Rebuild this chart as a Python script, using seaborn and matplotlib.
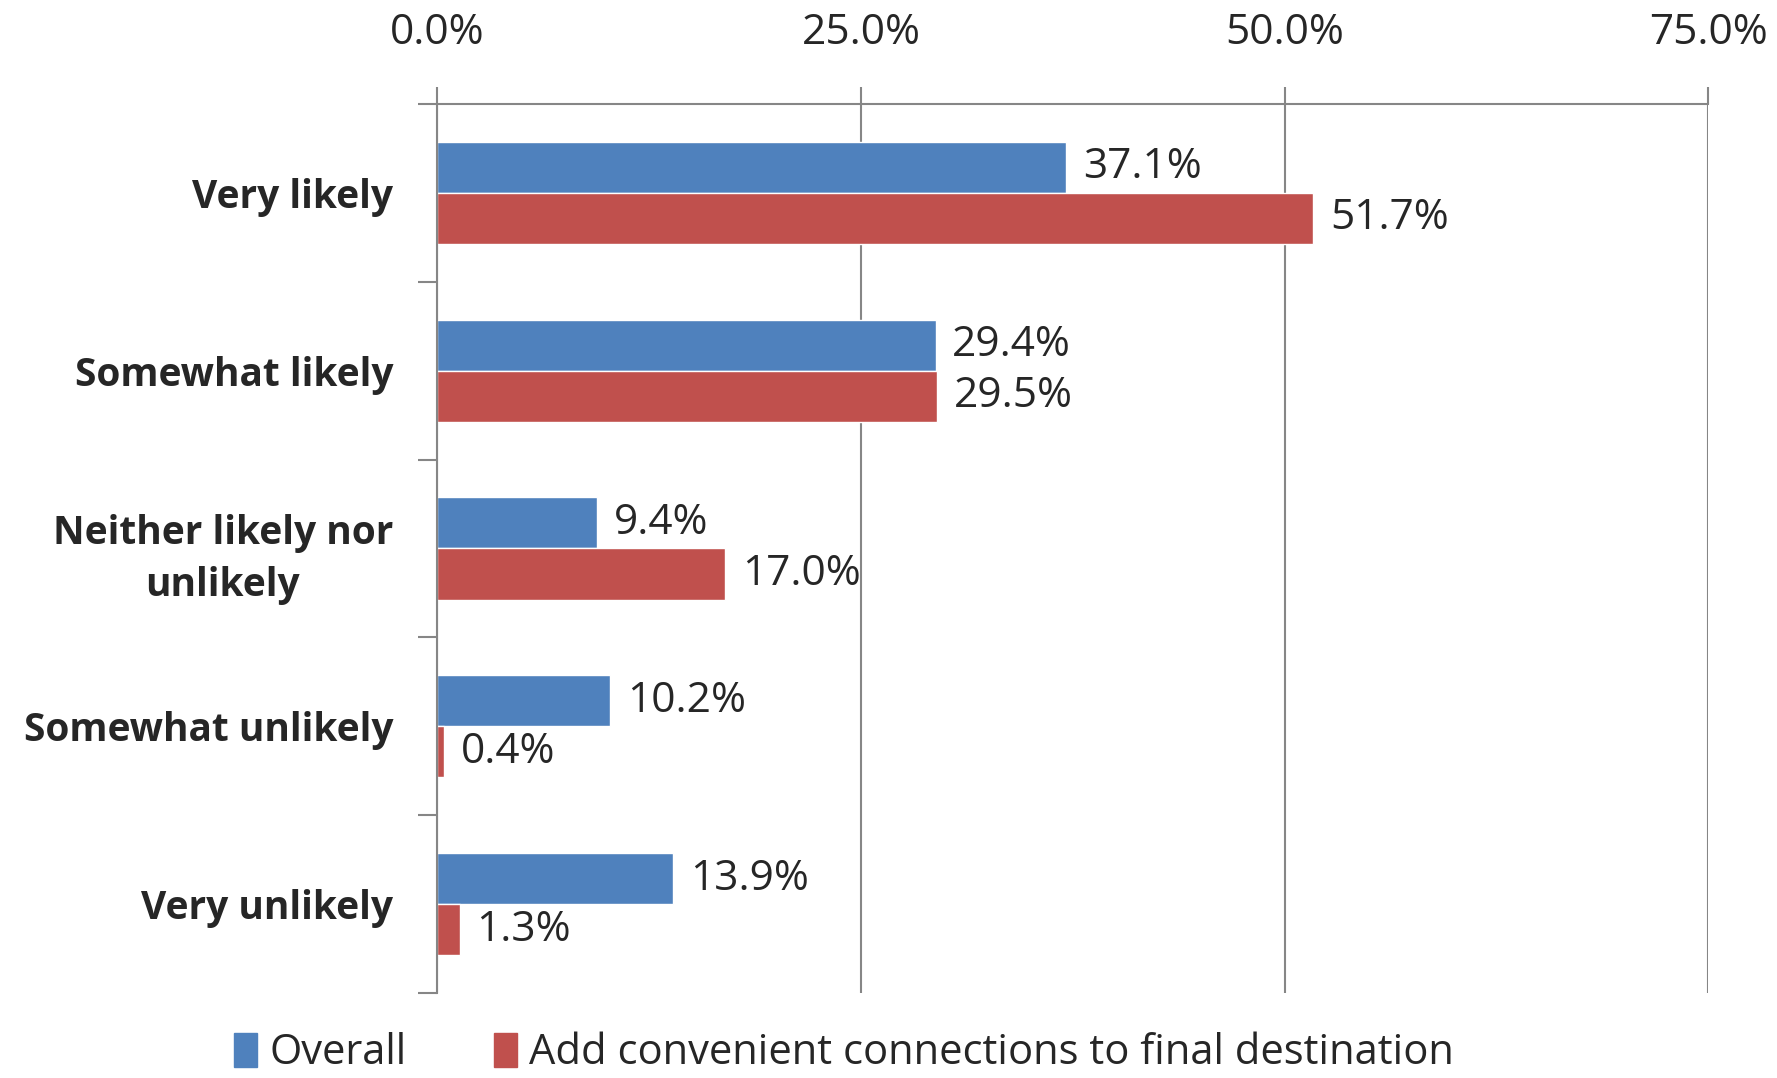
import numpy as np
import pandas as pd
import matplotlib
matplotlib.use("Agg")
import matplotlib.pyplot as plt
from matplotlib.ticker import FuncFormatter, FixedLocator
import seaborn as sns

categories = ["Very likely", "Somewhat likely", "Neither likely nor\nunlikely",
              "Somewhat unlikely", "Very unlikely"]
series_names = ["Overall", "Add convenient connections to final destination"]
overall = [37.1, 29.4, 9.4, 10.2, 13.9]
connections = [51.7, 29.5, 17.0, 0.4, 1.3]
x_ticks = [0, 25, 50, 75]
colors = ["#4F81BD", "#C0504D"]

df = pd.DataFrame({
    "category": categories * 2,
    "series": [series_names[0]] * len(categories) + [series_names[1]] * len(categories),
    "value": overall + connections,
})

sns.set_style("white")
plt.rcParams["font.family"] = ["Open Sans", "DejaVu Sans"]

fig = plt.figure(figsize=(17.77, 10.78), dpi=100)
ax = fig.add_axes([0.2462, 0.0789, 0.7150, 0.8246])

sns.barplot(data=df, y="category", x="value", hue="series", orient="h",
            palette=colors, width=0.574, ax=ax, saturation=1, legend=False)

for cont in ax.containers:
    ax.bar_label(cont, fmt="%.1f%%", padding=12, fontsize=30.5)

ax.set_xlim(0, 75)
ax.set_ylim(4.5, -0.5)
ax.xaxis.set_major_locator(FixedLocator(x_ticks))
ax.xaxis.set_major_formatter(FuncFormatter(lambda v, p: f"{v:.1f}%"))
ax.xaxis.tick_top()
ax.tick_params(axis="x", which="major", direction="out", length=12, width=1.5,
               color="#868686", labelsize=30.5, pad=24)
ax.grid(axis="x", color="#868686", linewidth=1.5)
ax.set_axisbelow(True)

ax.yaxis.set_minor_locator(FixedLocator(np.arange(-0.5, 5, 1)))
ax.tick_params(axis="y", which="minor", direction="out", length=14, width=1.5,
               color="#868686", left=True)
ax.tick_params(axis="y", which="major", length=0, pad=32, labelsize=28)
for lab in ax.get_yticklabels():
    lab.set_fontweight("bold")
    lab.set_multialignment("center")
    lab.set_linespacing(1.45)

for side in ["right", "bottom"]:
    ax.spines[side].set_visible(False)
for side in ["left", "top"]:
    ax.spines[side].set_color("#868686")
    ax.spines[side].set_linewidth(1.5)

ax.set_xlabel("")
ax.set_ylabel("")

handles = [plt.Rectangle((0, 0), 1, 1, color=c) for c in colors]
fig.legend(handles, series_names, loc="center", bbox_to_anchor=(0.475, 0.023),
           ncol=2, frameon=False, fontsize=30, handlelength=0.55, handleheight=0.9,
           handletextpad=0.3, columnspacing=2.1)

fig.savefig("out.png", dpi=100)
